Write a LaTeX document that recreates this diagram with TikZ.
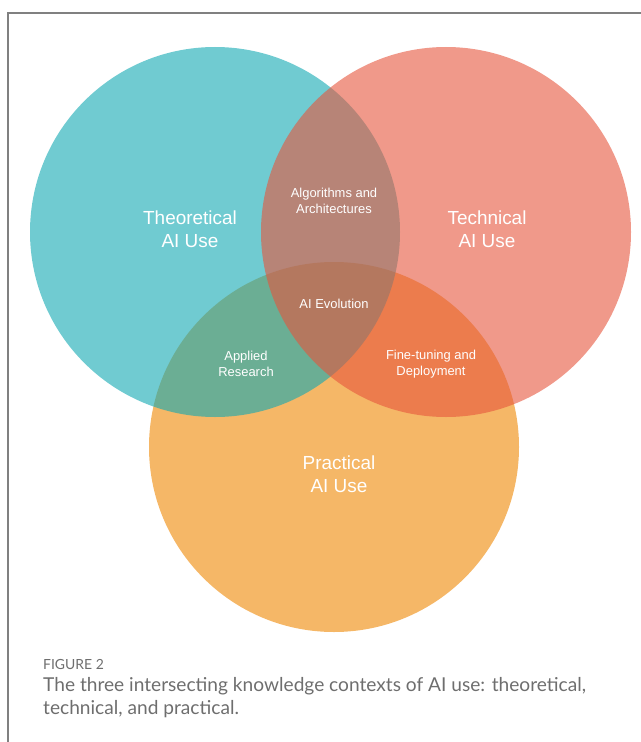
\documentclass[tikz,border=0pt]{standalone}
\usepackage{fontspec}
\setmainfont{Liberation Sans}
\newfontfamily\captionfont{Lato}

% pure colours, laid on with fill opacity
\definecolor{theoryTeal}{RGB}{17,168,178}
\definecolor{techRed}{RGB}{230,85,60}
\definecolor{practOrange}{RGB}{238,135,2}
\definecolor{frameGray}{RGB}{128,128,128}
\definecolor{captionGray}{RGB}{110,110,110}

\tikzset{
  setlabel/.style={text=white, align=center, inner sep=0pt,
    font=\fontsize{19}{23}\selectfont},
  overlaplabel/.style={text=white, align=center, inner sep=0pt,
    font=\fontsize{13}{15.5}\selectfont},
  captiontext/.style={anchor=base west, inner sep=0pt, text=captionGray,
    font=\captionfont\fontsize{19.2}{23}\selectfont},
  venn/.style={fill opacity=0.6}
}

\begin{document}
\begin{tikzpicture}[x=1bp, y=-1bp]
			% Page size
			\useasboundingbox (0,0) rectangle (641,742);

			% Circle radius and centres
			\pgfmathsetmacro{\rad}{185}
			\pgfmathsetmacro{\tx}{215}
			\pgfmathsetmacro{\ty}{232}
			\pgfmathsetmacro{\cx}{446}
			\pgfmathsetmacro{\px}{334}
			\pgfmathsetmacro{\py}{447}

			% Frame (open at right and bottom)
			\draw[frameGray, line width=1.5bp] (8,742) -- (8,13) -- (641,13);

			% The three sets, bottom to top
			\fill[venn, practOrange] (\px, \py) circle (\rad); % practical
			\fill[venn, theoryTeal] (\tx, \ty) circle (\rad); % theoretical
			\fill[venn, techRed] (\cx, \ty) circle (\rad); % technical

			% Set labels
			\node[setlabel] (theory) at (190, 229) {Theoretical\\AI Use};
			\node[setlabel] (tech) at (487, 229) {Technical\\AI Use};
			\node[setlabel] (pract) at (339, 474) {Practical\\AI Use};

			% Overlap labels
			\node[overlaplabel] (algo) at (334, 201) {Algorithms and\\Architectures};
			\node[overlaplabel] (evol) at (334, 304) {AI Evolution};
			\node[overlaplabel] (applied) at (246, 364) {Applied\\Research};
			\node[overlaplabel] (finetune) at (431, 364) {Fine-tuning and\\Deployment};

			% Caption
			\node[captiontext, font=\captionfont\fontsize{14}{16}\selectfont]
			(figno) at (43, 669) {FIGURE 2};
			\node[captiontext] (caption) at (43, 691)
			{The three intersecting knowledge contexts of AI use: theoretical,};
			\node[captiontext] (captionb) at (43, 714)
			{technical, and practical.};
\end{tikzpicture}
\end{document}
